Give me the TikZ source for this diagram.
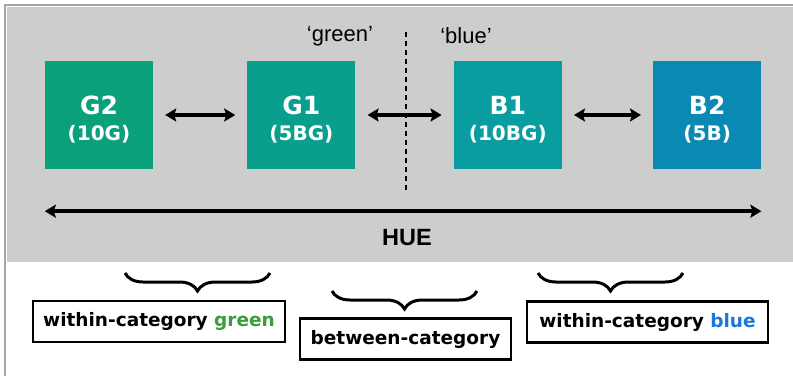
\documentclass[tikz,border=0pt]{standalone}
\usepackage{fontspec}
\usetikzlibrary{positioning, calc, arrows.meta, decorations.pathreplacing}
\newfontfamily\chipfont{DejaVu Sans}
\newfontfamily\plainfont{Liberation Sans}
\definecolor{hue_g2}{HTML}{0AA07A}
\definecolor{hue_g1}{HTML}{0A9F8C}
\definecolor{hue_b1}{HTML}{0A9DA0}
\definecolor{hue_b2}{HTML}{0A8AB2}
\definecolor{cat_green}{HTML}{3A9E3A}
\definecolor{cat_blue}{HTML}{1A78D8}
\definecolor{panel_gray}{HTML}{CDCDCD}
\tikzset{
  chip/.style={rectangle,minimum width=108pt,minimum height=108pt,inner sep=0pt,text=white,align=center,font=\chipfont\bfseries\fontsize{25}{26}\selectfont},
  pair/.style={line width=3.6pt,{Stealth[length=11pt,width=13pt,inset=2pt]}-{Stealth[length=11pt,width=13pt,inset=2pt]},shorten <=12pt,shorten >=12pt},
  axis/.style={pair,shorten <=0pt,shorten >=0pt},
  catname/.style={font=\plainfont\fontsize{22}{26}\selectfont},
  huename/.style={font=\plainfont\bfseries\fontsize{23.5}{28}\selectfont},
  split/.style={line width=1.8pt,dash pattern=on 5pt off 4pt},
  bracket/.style={decorate,decoration={brace,mirror,amplitude=18pt},line width=3pt},
  tag/.style={draw,line width=2.6pt,rectangle,inner sep=0pt,minimum height=41pt,font=\chipfont\bfseries\fontsize{18.5}{22}\selectfont},
}
\newcommand{\chiptext}[2]{\rule{0pt}{27pt}#1\\\fontsize{20}{26}\selectfont(#2)}
\begin{document}
\begin{tikzpicture}[x=1pt,y=-1pt]
  \useasboundingbox (0,0) rectangle (793,376);
  \fill[white] (0,0) rectangle (793,376);
  \fill[panel_gray] (7,7) rectangle (793,262);
  \draw[gray!70,line width=2pt] (5,376) -- (5,5) -- (793,5);

  \node[chip,fill=hue_g2] (G2) at (99,115) {\chiptext{G2}{10G}};
  \node[chip,fill=hue_g1,right=94pt of G2] (G1) {\chiptext{G1}{5BG}};
  \node[chip,fill=hue_b1,right=98pt of G1] (B1) {\chiptext{B1}{10BG}};
  \node[chip,fill=hue_b2,right=91pt of B1] (B2) {\chiptext{B2}{5B}};

  \draw[pair] (G2) -- (G1);
  \draw[pair] (G1) -- (B1);
  \draw[pair] (B1) -- (B2);

  \coordinate (splittop) at (406,32);
  \coordinate (splitbot) at (406,193);
  \draw[split] (splittop) -- (splitbot);
  \node[catname] (green) at (340,36) {‘green’};
  \node[catname] (blue) at (466,36) {‘blue’};

  \coordinate (hueL) at ($(G2.south west)+(0,42)$);
  \coordinate (hueR) at ($(B2.south east)+(0,42)$);
  \draw[axis] (hueL) -- (hueR);
  \node[huename] (hue) at (407,238) {HUE};

  \draw[bracket] (125,273) -- (270,273);
  \draw[bracket] (332,291) -- (477,291);
  \draw[bracket] (538,273) -- (683,273);

  \node[tag,minimum width=252pt] (wg) at (159,321.5) {within-category \textcolor{cat_green}{green}};
  \node[tag,minimum width=211pt] (bc) at (405.5,339) {between-category};
  \node[tag,minimum width=241pt] (wb) at (647.5,322) {within-category \textcolor{cat_blue}{blue}};
\end{tikzpicture}
\end{document}
